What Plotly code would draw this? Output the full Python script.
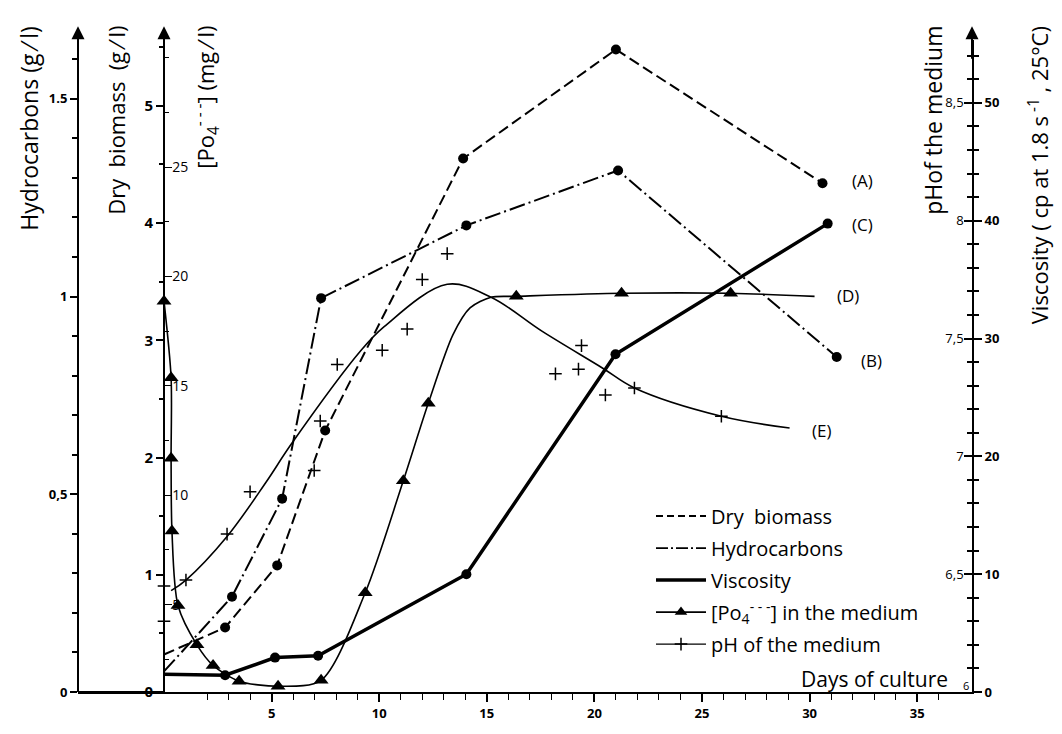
import plotly.graph_objects as go

# ---------------- data ----------------
bio_days = [0, 2.84, 5.26, 7.49, 13.9, 21.0, 30.6]
bio_vals = [0.32, 0.55, 1.08, 2.23, 4.55, 5.48, 4.34]

hyd_days = [0, 3.16, 5.49, 7.3, 14.05, 21.1, 31.26]
hyd_vals = [0.052, 0.241, 0.489, 0.996, 1.18, 1.319, 0.847]

visc_days = [0, 2.84, 5.16, 7.16, 14.05, 20.98, 30.84]
visc_vals = [1.5, 1.42, 2.92, 3.08, 10.0, 28.67, 39.75]

po4_days = [0, 0.33, 0.33, 0.37, 0.65, 1.53, 2.28, 3.49, 5.3, 7.3, 9.35, 11.12, 12.28,
            13.43, 14.22, 15.2, 16.37, 21.26, 26.33, 30.23]
po4_vals = [18.87, 15.37, 11.69, 8.36, 4.96, 3.16, 2.22, 1.50, 1.27, 1.54, 5.54, 10.66, 14.2,
            17.34, 18.56, 19.05, 19.09, 19.23, 19.23, 19.09]
po4_measured = [1, 1, 1, 1, 1, 1, 1, 1, 1, 1, 1, 1, 1,
                0, 0, 0, 1, 1, 1, 0]

ph_days = [0, 0, 1.02, 2.93, 4.0, 6.98, 7.26, 8.05, 10.14, 11.3, 12.0, 13.16, 18.19, 19.26, 19.4, 20.51, 21.86, 25.9]
ph_vals = [6.45, 6.30, 6.475, 6.67, 6.85, 6.94, 7.15, 7.39, 7.45, 7.54, 7.75, 7.86, 7.35, 7.37, 7.47, 7.26, 7.29, 7.17]

ph_curve_days = [0.33, 1.02, 2.93, 4.74, 5.9, 9.16, 10.23, 13.16, 15.2, 17.58, 20.37, 21.86, 25.9, 29.07]
ph_curve_vals = [6.43, 6.475, 6.66, 6.89, 7.05, 7.45, 7.55, 7.73, 7.675, 7.53, 7.375, 7.29, 7.17, 7.12]

x_ticks = [5, 10, 15, 20, 25, 30, 35]
bio_ticks = [0, 1, 2, 3, 4, 5]
hyd_ticks = [0, 0.5, 1, 1.5]
hyd_ticktext = ["0", "0,5", "1", "1.5"]
po4_ticks = [5, 10, 15, 20, 25]
visc_ticks = [0, 10, 20, 30, 40, 50]
ph_ticks = [6.5, 7, 7.5, 8, 8.5]
ph_ticktext = ["6,5", "7", "7,5", "8", "8,5"]

FONT = "Open Sans"
K = "black"

fig = go.Figure()

def dots(n, first_hidden=True, size=10):
    return [0 if (i == 0 and first_hidden) else size for i in range(n)]

# Dry biomass (A)
fig.add_trace(go.Scatter(
    x=bio_days, y=bio_vals, yaxis="y", mode="lines+markers", showlegend=False,
    line=dict(color=K, width=2, dash="11px,5px"),
    marker=dict(symbol="circle", color=K, opacity=1, size=dots(len(bio_days)), line=dict(width=0))))

# Hydrocarbons (B)
fig.add_trace(go.Scatter(
    x=hyd_days, y=hyd_vals, yaxis="y2", mode="lines+markers", showlegend=False,
    line=dict(color=K, width=2, dash="16px,4px,2px,4px"),
    marker=dict(symbol="circle", color=K, opacity=1, size=dots(len(hyd_days)), line=dict(width=0))))

# Viscosity (C)
fig.add_trace(go.Scatter(
    x=visc_days, y=visc_vals, yaxis="y4", mode="lines+markers", showlegend=False,
    line=dict(color=K, width=3.5),
    marker=dict(symbol="circle", color=K, opacity=1, size=dots(len(visc_days)), line=dict(width=0))))

# PO4 (D)
fig.add_trace(go.Scatter(
    x=po4_days, y=po4_vals, yaxis="y3", mode="lines+markers", showlegend=False,
    line=dict(color=K, width=1.6, shape="spline", smoothing=0.8),
    marker=dict(symbol="triangle-up", color=K, opacity=1, size=[13 * m for m in po4_measured],
                line=dict(width=0))))

# pH curve (E)
fig.add_trace(go.Scatter(
    x=ph_curve_days, y=ph_curve_vals, yaxis="y5", mode="lines", showlegend=False,
    line=dict(color=K, width=1.6, shape="spline", smoothing=1.0)))
fig.add_trace(go.Scatter(
    x=ph_days, y=ph_vals, yaxis="y5", mode="markers", showlegend=False,
    marker=dict(symbol="cross-thin", size=9, opacity=1, line=dict(color=K, width=1.5))))

# legend entries
leg = [
    ("Dry  biomass", "lines", dict(color=K, width=2, dash="7px,4px"), None),
    ("Hydrocarbons", "lines", dict(color=K, width=1.6, dash="12px,3px,2px,3px"), None),
    ("Viscosity", "lines", dict(color=K, width=3.5), None),
    ("[Po<sub>4</sub><sup>- - -</sup>] in the medium", "lines+markers", dict(color=K, width=1.6),
     dict(symbol="triangle-up", size=11, color=K, opacity=1)),
    ("pH of the medium", "lines+markers", dict(color=K, width=1.4),
     dict(symbol="cross-thin", size=9, opacity=1, line=dict(color=K, width=1.5))),
]
for i, (nm, md, ln, mk) in enumerate(leg):
    kw = dict(x=[None], y=[None], mode=md, name=nm, line=ln, legendgroup="g%d" % i)
    if mk:
        kw["marker"] = mk
    fig.add_trace(go.Scatter(**kw))

# ---------------- layout ----------------
L, R, T, B = 78, 90, 40, 30
W, H = 1062, 734
PW, PH = W - L - R, H - T - B
x0_pix = 164
px_per_day = 21.52
x_lo = -(x0_pix - L) / px_per_day
x_hi = x_lo + PW / px_per_day
pos0 = (x0_pix - L) / PW

def px(p):
    return (p - L) / PW

def py(p):
    return (H - B - p) / PH

tick_bold = dict(family=FONT, size=13, color=K, weight="bold")
tick_thin = dict(family=FONT, size=14, color=K)

fig.update_layout(
    width=W, height=H,
    margin=dict(l=L, r=R, t=T, b=B, pad=0),
    paper_bgcolor="white", plot_bgcolor="white",
    font=dict(family=FONT, color=K),
    showlegend=True,
    legend=dict(x=px(651), y=py(505), xanchor="left", yanchor="top",
                font=dict(family=FONT, size=20, color=K),
                bgcolor="rgba(0,0,0,0)", itemwidth=50, tracegroupgap=3),
    xaxis=dict(domain=[0, 1], range=[x_lo, x_hi], showgrid=False, zeroline=False,
               showline=True, linecolor=K, linewidth=2,
               tickmode="array", tickvals=x_ticks, ticks="outside", ticklen=8,
               tickwidth=1.5, tickcolor=K, tickfont=tick_bold,
               minor=dict(tickmode="array", tickvals=list(range(1, 38)),
                          ticks="outside", ticklen=6, tickwidth=1.3, tickcolor=K),
               anchor="y"),
    yaxis=dict(range=[0, PH / 119.4], anchor="free", position=pos0, side="left",
               showgrid=False, zeroline=False, showline=True, linecolor=K, linewidth=2,
               tickmode="array", tickvals=bio_ticks, ticks="outside", ticklen=7,
               tickwidth=1.5, tickcolor=K, tickfont=dict(family=FONT, size=15, color=K, weight="bold"),
               minor=dict(dtick=0.5, ticks="outside", ticklen=4, tickcolor=K)),
    yaxis2=dict(range=[0, PH / 402.7], overlaying="y", anchor="free", position=0, side="left",
                showgrid=False, zeroline=False, showline=True, linecolor=K, linewidth=2,
                tickmode="array", tickvals=hyd_ticks, ticktext=hyd_ticktext,
                ticks="outside", ticklen=7, tickwidth=1.5, tickcolor=K, tickfont=tick_bold,
                minor=dict(dtick=0.1, ticks="outside", ticklen=5, tickcolor=K)),
    yaxis3=dict(range=[(726.4 - 704) / 22.28, (726.4 - 704) / 22.28 + PH / 22.28],
                overlaying="y", anchor="free", position=pos0, side="left",
                showgrid=False, zeroline=False, showline=False,
                tickmode="array", tickvals=po4_ticks, ticks="inside", ticklen=7,
                ticklabelposition="inside", tickwidth=1.2, tickcolor=K, tickfont=tick_thin,
                minor=dict(dtick=2.5, ticks="inside", ticklen=4, tickcolor=K)),
    yaxis4=dict(range=[0, PH / 12.0], overlaying="y", anchor="x", side="right",
                showgrid=False, zeroline=False, showline=True, linecolor=K, linewidth=2,
                tickmode="array", tickvals=visc_ticks, ticks="outside", ticklen=8,
                tickwidth=1.5, tickcolor=K, tickfont=tick_bold,
                minor=dict(dtick=2, ticks="outside", ticklen=5, tickcolor=K)),
    yaxis5=dict(range=[6, 6 + PH / 240.0], overlaying="y", anchor="x", side="right",
                showgrid=False, zeroline=False, showline=False,
                tickmode="array", tickvals=ph_ticks, ticktext=ph_ticktext,
                ticks="inside", ticklen=8, ticklabelposition="inside",
                tickwidth=1.5, tickcolor=K, tickfont=dict(family=FONT, size=13, color=K),
                minor=dict(dtick=0.1, ticks="inside", ticklen=5, tickcolor=K)),
)

ann = []
# axis arrows
for xp in [px(78), px(x0_pix), 1.0]:
    ann.append(dict(x=xp, y=py(26), xref="paper", yref="paper", ax=0, ay=34,
                    showarrow=True, arrowhead=2, arrowsize=1.3, arrowwidth=2,
                    arrowcolor=K, text=""))

def vtitle(text, xpix, ytop, size=20):
    return dict(x=px(xpix), y=py(ytop), xref="paper", yref="paper", text=text,
                textangle=-90, showarrow=False, xanchor="center", yanchor="top",
                font=dict(family=FONT, size=size, color=K))

ann.append(vtitle("Hydrocarbons (g ⁄ l)", 29, 24, 23))
ann.append(vtitle("Dry  biomass  (g ⁄ l)", 116, 24, 22))
ann.append(vtitle("[Po<sub>4</sub><sup>- - -</sup>] (mg ⁄ l)", 207, 24, 22))
ann.append(vtitle("pHof the medium", 933, 24, 23))
ann.append(vtitle("Viscosity ( cp at 1.8 s<sup> -1</sup> , 25°C)", 1038, 24, 22))

ann.append(dict(x=px(799), y=py(691), xref="paper", yref="paper", text="Days of culture",
                showarrow=False, xanchor="left", yanchor="middle",
                font=dict(family=FONT, size=21, color=K)))
ann.append(dict(x=px(966), y=py(697), xref="paper", yref="paper", text="6",
                showarrow=False, xanchor="center", yanchor="middle",
                font=dict(family=FONT, size=11, color=K)))

# curve labels
lab = dict(showarrow=False, xanchor="left", yanchor="middle",
           font=dict(family=FONT, size=17, color=K))
ann.append(dict(x=31.9, y=4.36, xref="x", yref="y", text="(A)", **lab))
ann.append(dict(x=31.9, y=39.7, xref="x", yref="y4", text="(C)", **lab))
ann.append(dict(x=31.2, y=19.14, xref="x", yref="y3", text="(D)", **lab))
ann.append(dict(x=32.3, y=0.839, xref="x", yref="y2", text="(B)", **lab))
ann.append(dict(x=30.0, y=7.11, xref="x", yref="y5", text="(E)", **lab))

fig.update_layout(annotations=ann)

# base line joining the hydrocarbon axis to the day-0 axis
fig.add_shape(type="line", xref="paper", yref="paper", x0=0, x1=pos0, y0=0, y1=0,
              line=dict(color=K, width=2))

fig.write_html("out.html")
